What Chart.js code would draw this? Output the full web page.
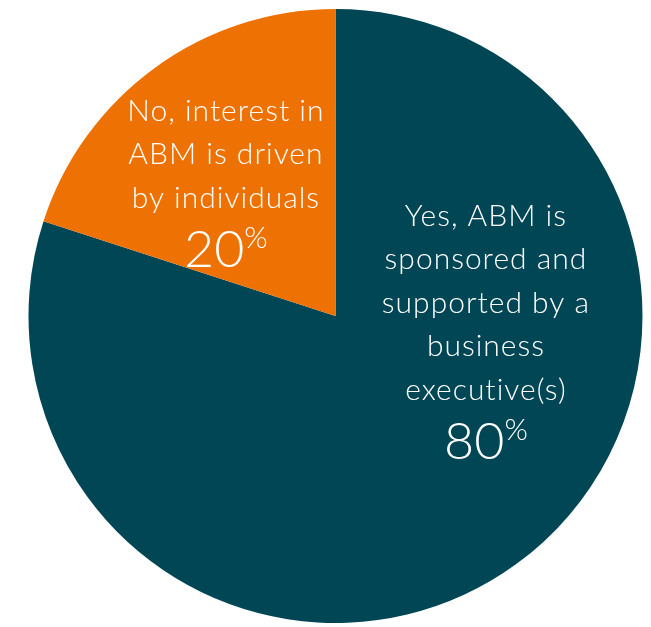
<!DOCTYPE html>
<html>
<head>
<meta charset="utf-8">
<script src="https://cdn.jsdelivr.net/npm/chart.js@4.4.1/dist/chart.umd.min.js"></script>
<style>
  html, body { margin: 0; padding: 0; background: #ffffff; }
  #wrap { width: 651px; height: 627px; }
</style>
</head>
<body>
<div id="wrap"><canvas id="pie"></canvas></div>
<script>
// datos del gráfico
const categories = ['Yes, ABM is sponsored and supported by a business executive(s)', 'No, interest in ABM is driven by individuals'];
const values = [80, 20];
const labelLines = [
    ['Yes, ABM is', 'sponsored and', 'supported by a', 'business', 'executive(s)'],
    ['No, interest in', 'ABM is driven', 'by individuals']
];
const colors = ['#004654', '#EE7203'];

// donde va cada etiqueta, relativo al centro y radio del pastel
const labelAnchor = [
    { dx: 0.49, dy: -0.325 },
    { dx: -0.357, dy: -0.667 }
];

const sliceLabels = {
    id: 'sliceLabels',
    afterDatasetsDraw(chart) {
        const ctx = chart.ctx;
        const meta = chart.getDatasetMeta(0);
        meta.data.forEach(function (arc, i) {
            const p = arc.getProps(['x', 'y', 'outerRadius'], true);
            const cx = p.x + labelAnchor[i].dx * p.outerRadius;
            let y = p.y + labelAnchor[i].dy * p.outerRadius;
            ctx.save();
            ctx.fillStyle = '#ffffff';
            ctx.textAlign = 'center';
            ctx.textBaseline = 'middle';
            ctx.font = '300 30px Lato';
            ctx.letterSpacing = '1px';
            labelLines[i].forEach(function (line) {
                ctx.fillText(line, cx, y);
                y += 43.5;
            });
            // porcentaje con el signo más pequeño y arriba
            ctx.letterSpacing = '0px';
            const num = String(values[i]);
            ctx.font = '300 52px Lato';
            const wNum = ctx.measureText(num).width;
            ctx.font = '300 30px Lato';
            const wPct = ctx.measureText('%').width;
            const left = cx - (wNum + wPct) / 2;
            const py = y + 9;
            ctx.textAlign = 'left';
            ctx.font = '300 52px Lato';
            ctx.fillText(num, left, py);
            ctx.font = '300 30px Lato';
            ctx.fillText('%', left + wNum, py - 12);
            ctx.restore();
        });
    }
};

const ctx = document.getElementById('pie').getContext('2d');
const myChart = new Chart(ctx, {
    type: 'pie',
    data: {
        labels: categories,
        datasets: [
            {
                data: values,
                backgroundColor: colors,
                borderWidth: 0,
            },
        ],
    },
    options: {
        responsive: true,
        maintainAspectRatio: false,
        animation: false,
        layout: {
            padding: { top: 9, bottom: 4, left: 20, right: 0 },
        },
        plugins: {
            legend: { display: false },
            tooltip: { enabled: false },
        },
    },
    plugins: [sliceLabels],
});
</script>
</body>
</html>
